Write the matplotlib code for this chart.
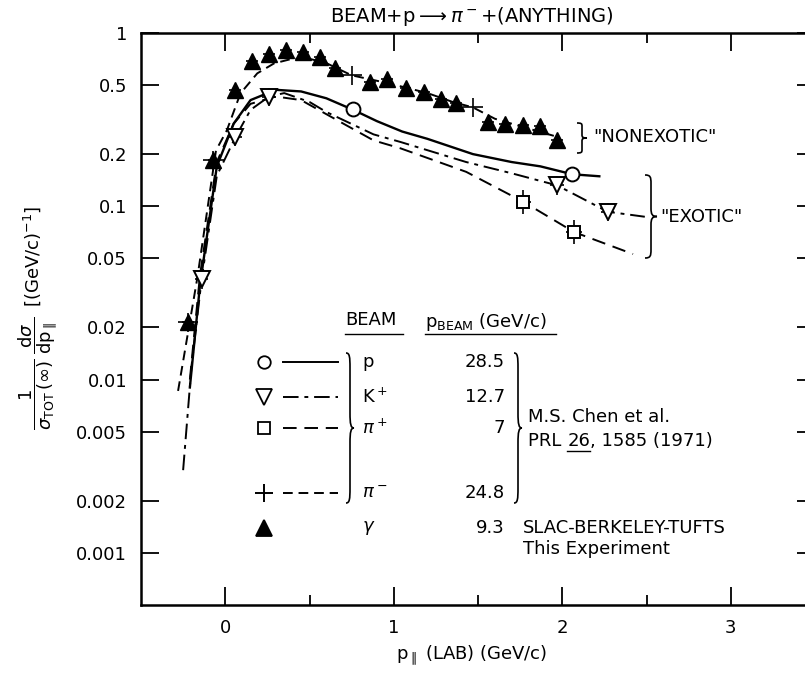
import numpy as np
import matplotlib
matplotlib.use('Agg')
import matplotlib.pyplot as plt
from matplotlib.path import Path
from matplotlib.patches import PathPatch
from matplotlib.lines import Line2D

W, H = 805, 673

# photoproduction, this experiment (filled triangles)
gam_x = [-0.22, -0.07, 0.06, 0.16, 0.26, 0.36, 0.46, 0.56, 0.65, 0.86, 0.96,
         1.07, 1.18, 1.28, 1.37, 1.56, 1.66, 1.77, 1.87, 1.97]
gam_y = [0.0214, 0.184, 0.469, 0.69, 0.76, 0.80, 0.78, 0.73, 0.625, 0.52, 0.54,
         0.48, 0.458, 0.415, 0.395, 0.307, 0.30, 0.294, 0.29, 0.24]

# Chen et al. points
p_x = [0.76, 2.06]
p_y = [0.362, 0.153]
kp_x = [-0.14, 0.06, 0.26, 1.97, 2.27]
kp_y = [0.038, 0.252, 0.428, 0.132, 0.093]
pip_x = [1.77, 2.07]
pip_y = [0.106, 0.071]
pim_x = [-0.22, -0.07, 0.75, 1.47]
pim_y = [0.0214, 0.184, 0.57, 0.372]

# smooth curves
p_cx = [-0.21, -0.15, -0.05, 0.05, 0.15, 0.3, 0.45, 0.6, 0.76, 0.9, 1.05, 1.2, 1.47, 1.7, 1.87, 2.06, 2.22]
p_cy = [0.009, 0.035, 0.17, 0.30, 0.41, 0.47, 0.46, 0.42, 0.36, 0.31, 0.27, 0.245, 0.20, 0.18, 0.17, 0.153, 0.149]
kp_cx = [-0.25, -0.2, -0.14, -0.05, 0.06, 0.15, 0.26, 0.35, 0.5, 0.6, 0.88, 1.04, 1.43, 1.7, 1.97, 2.27, 2.49]
kp_cy = [0.003, 0.012, 0.038, 0.15, 0.25, 0.36, 0.43, 0.45, 0.40, 0.35, 0.26, 0.235, 0.18, 0.155, 0.132, 0.093, 0.087]
pip_cx = [-0.21, -0.15, -0.05, 0.05, 0.15, 0.3, 0.45, 0.6, 0.88, 1.04, 1.43, 1.77, 2.07, 2.42]
pip_cy = [0.01, 0.04, 0.18, 0.30, 0.39, 0.43, 0.41, 0.34, 0.24, 0.216, 0.158, 0.106, 0.071, 0.053]
pim_cx = [-0.28, -0.165, -0.055, 0.01, 0.09, 0.19, 0.29, 0.39, 0.49, 0.6, 0.75, 0.9,
          1.05, 1.2, 1.35, 1.47, 1.6, 1.75, 1.95]
pim_cy = [0.0086, 0.039, 0.21, 0.275, 0.448, 0.585, 0.668, 0.707, 0.714, 0.67, 0.57, 0.53,
          0.49, 0.45, 0.40, 0.372, 0.32, 0.29, 0.255]

yticks = [1, 0.5, 0.2, 0.1, 0.05, 0.02, 0.01, 0.005, 0.002, 0.001]
ytick_labels = ['1', '0.5', '0.2', '0.1', '0.05', '0.02', '0.01', '0.005', '0.002', '0.001']

plt.rcParams['font.family'] = 'DejaVu Sans'
fig = plt.figure(figsize=(W / 100, H / 100), dpi=100)
ax = fig.add_axes([141 / W, 1 - 605 / H, (815 - 141) / W, (605 - 33) / H])
ax.set_yscale('log')
ax.set_xlim(-0.5, 3.5)
ax.set_ylim(0.0005, 1)

lw = 1.4
ax.plot(p_cx, p_cy, color='k', lw=lw + 0.3, ls='-')
ax.plot(kp_cx, kp_cy, color='k', lw=lw, ls=(0, (8, 3, 2, 3)))
ax.plot(pip_cx, pip_cy, color='k', lw=lw, ls=(0, (7, 4)))
ax.plot(pim_cx, pim_cy, color='k', lw=lw, ls=(0, (5, 3)))

eb = dict(ls='none', ecolor='k', elinewidth=1.2, capsize=0)
ax.errorbar(gam_x, gam_y, xerr=0.035, fmt='^', ms=11, mfc='k', mec='k', **eb)
ax.errorbar(pim_x, pim_y, xerr=0.06, yerr=[np.array(pim_y) * 0.12, np.array(pim_y) * 0.13],
            fmt='none', **eb)
ax.errorbar(p_x, p_y, xerr=0.04, fmt='o', ms=10, mfc='white', mec='k', mew=1.4, **eb)
ax.errorbar(kp_x, kp_y, xerr=0.04, yerr=[np.array(kp_y) * 0.12, np.array(kp_y) * 0.13],
            fmt='v', ms=12, mfc='white', mec='k', mew=1.4, **eb)
ax.errorbar(pip_x, pip_y, xerr=0.045, yerr=[np.array(pip_y) * 0.15, np.array(pip_y) * 0.17],
            fmt='s', ms=9, mfc='white', mec='k', mew=1.4, **eb)

ax.set_yticks(yticks)
ax.set_yticklabels(ytick_labels)
ax.yaxis.set_minor_locator(matplotlib.ticker.NullLocator())
ax.set_xticks([0, 1, 2, 3])
ax.set_xticklabels(['0', '1', '2', '3'])
ax.set_xticks([0.5, 1.5, 2.5], minor=True)
ax.tick_params(which='both', direction='in', top=True, right=True, labelsize=13, width=1.3, pad=10)
ax.tick_params(which='major', length=13)
ax.tick_params(which='minor', length=7)
for s in ax.spines.values():
    s.set_linewidth(1.8)


def fx(px):
    return px / W


def fy(py):
    return 1 - py / H


def brace(x0, y_top, y_bot, w, lw=1.2):
    yc = (y_top + y_bot) / 2
    h = (y_bot - y_top) / 2
    pts = [(0, 1), (0.45, 1), (0.5, 0.95), (0.5, 0.8), (0.5, 0.2),
           (0.5, 0.05), (0.6, 0), (1, 0), (0.6, 0), (0.5, -0.05), (0.5, -0.2),
           (0.5, -0.8), (0.5, -0.95), (0.45, -1), (0, -1)]
    codes = [Path.MOVETO, Path.CURVE4, Path.CURVE4, Path.CURVE4, Path.LINETO,
             Path.CURVE4, Path.CURVE4, Path.CURVE4, Path.CURVE4, Path.CURVE4, Path.CURVE4,
             Path.LINETO, Path.CURVE4, Path.CURVE4, Path.CURVE4]
    verts = [(fx(x0 + a * w), fy(yc - b * h)) for a, b in pts]
    fig.patches.append(PathPatch(Path(verts, codes), transform=fig.transFigure,
                                 fill=False, lw=lw, color='k'))


fs = 13
# curve group labels
brace(577, 123, 153, 10)
fig.text(fx(593), fy(137), '"NONEXOTIC"', fontsize=fs, va='center', ha='left')
brace(645, 175, 258, 12)
fig.text(fx(660), fy(217), '"EXOTIC"', fontsize=fs, va='center', ha='left')

# title
fig.text(fx(330), fy(16), r'BEAM+p$\longrightarrow\pi^-$+(ANYTHING)', fontsize=fs + 1,
         va='center', ha='left')

# legend table
fig.text(fx(345), fy(320), 'BEAM', fontsize=fs, va='center', ha='left')
fig.text(fx(425), fy(322), r'p$_{\mathrm{BEAM}}$ (GeV/c)', fontsize=fs, va='center', ha='left')
fig.add_artist(Line2D([fx(345), fx(403)], [fy(334), fy(334)], color='k', lw=1))
fig.add_artist(Line2D([fx(425), fx(556)], [fy(334), fy(334)], color='k', lw=1))

rows = [362, 397, 428, 493, 528]
names = ['p', r'K$^+$', r'$\pi^+$', r'$\pi^-$', r'$\gamma$']
moms = ['28.5', '12.7', '7', '24.8', '9.3']
mk = [dict(marker='o', ms=9, mfc='white'), dict(marker='v', ms=11, mfc='white'),
      dict(marker='s', ms=9, mfc='white'), dict(marker='+', ms=13, mew=1.4),
      dict(marker='^', ms=11, mfc='k')]
styles = ['-', (0, (8, 3, 2, 3)), (0, (7, 4)), (0, (5, 3)), None]
for y, n, m, k, st in zip(rows, names, moms, mk, styles):
    fig.add_artist(Line2D([fx(264)], [fy(y)], color='k', mec='k', mew=k.pop('mew', 1.3),
                          ls='none', **k))
    if st is not None:
        fig.add_artist(Line2D([fx(283), fx(338)], [fy(y), fy(y)], color='k', lw=lw, ls=st))
    fig.text(fx(362), fy(y), n, fontsize=fs, va='center', ha='left')
    fig.text(fx(505), fy(y), m, fontsize=fs, va='center', ha='right')

brace(346, 353, 503, 8)
brace(514, 353, 503, 8)
fig.text(fx(528), fy(417), 'M.S. Chen et al.', fontsize=fs, va='center', ha='left')

# reference line with underlined volume number
renderer = fig.canvas.get_renderer()
t1 = fig.text(fx(528), fy(441), 'PRL ', fontsize=fs, va='center', ha='left')
bb1 = t1.get_window_extent(renderer)
t2 = fig.text(bb1.x1 / W, fy(441), '26', fontsize=fs, va='center', ha='left')
bb2 = t2.get_window_extent(renderer)
fig.add_artist(Line2D([bb2.x0 / W, bb2.x1 / W], [(bb2.y0 - 1) / H] * 2, color='k', lw=1))
fig.text(bb2.x1 / W, fy(441), ', 1585 (1971)', fontsize=fs, va='center', ha='left')

fig.text(fx(523), fy(528), 'SLAC-BERKELEY-TUFTS', fontsize=fs, va='center', ha='left')
fig.text(fx(523), fy(549), 'This Experiment', fontsize=fs, va='center', ha='left')

# axis labels
fig.text(fx(472), fy(655), r'p$_{\parallel}$ (LAB) (GeV/c)', fontsize=fs, ha='center', va='center')
fig.text(fx(38), fy(318),
         r'$\dfrac{1}{\sigma_{\mathrm{TOT}}\,(\infty)}\;\dfrac{\mathrm{d}\sigma}{\mathrm{dp}_{\parallel}}'
         r'\;\;\left[(\mathrm{GeV/c})^{-1}\right]$',
         fontsize=fs, rotation=90, ha='center', va='center')

fig.savefig('out.png', dpi=100)
